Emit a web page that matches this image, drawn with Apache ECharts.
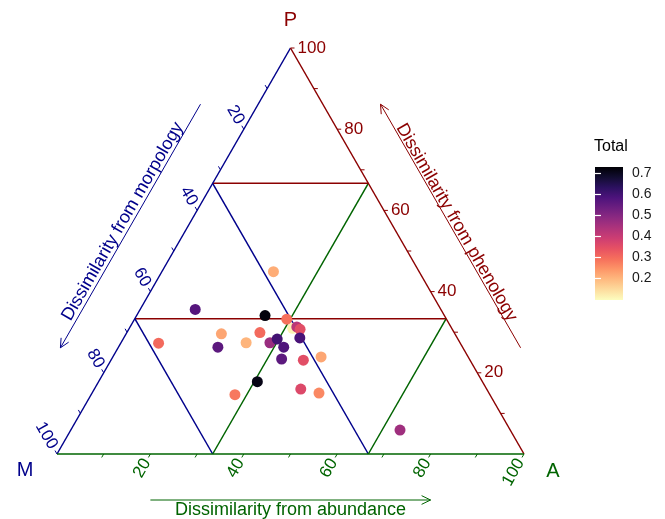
<!DOCTYPE html>
<html>
<head>
<meta charset="utf-8">
<title>Ternary - dissimilarity</title>
<script src="https://cdn.jsdelivr.net/npm/echarts@6/dist/echarts.min.js"></script>
<style>
html,body{margin:0;padding:0;background:#fff;}
#chart{width:665px;height:519px;}
</style>
</head>
<body>
<div id="chart"></div>
<script>
// points: M (morphology), A (abundance), P (phenology) in %, plus Total
var ptM = [34.1, 31.2, 52.6, 38.4, 34.2, 33.0, 32.6, 64.6, 50.0, 41.6, 52.4, 45.8, 40.7, 38.7, 38.3, 33.7, 40.2, 35.7, 31.5, 48.2, 54.6, 39.8, 36.4, 23.6];
var ptA = [35.0, 23.9, 11.8, 27.5, 32.6, 35.7, 36.7, 8.1, 20.4, 28.5, 21.3, 26.8, 31.9, 33.0, 35.4, 37.7, 36.4, 41.2, 44.6, 34.0, 30.8, 44.2, 48.6, 70.5];
var ptP = [31.0, 44.9, 35.6, 34.1, 33.2, 31.3, 30.7, 27.3, 29.6, 29.9, 26.3, 27.4, 27.4, 28.3, 26.3, 28.6, 23.4, 23.1, 23.9, 17.8, 14.6, 16.0, 15.0, 5.9];
var ptTotal = [0.11, 0.21, 0.57, 0.72, 0.29, 0.42, 0.35, 0.30, 0.22, 0.30, 0.56, 0.20, 0.47, 0.60, 0.58, 0.59, 0.56, 0.35, 0.22, 0.71, 0.28, 0.36, 0.26, 0.46];

// axes
var tickLabels = [20, 40, 60, 80, 100];
var minorTicks = [10, 20, 30, 40, 50, 60, 70, 80, 90, 100];
var gridLevels = [100 / 3, 200 / 3];
var arrowSpan = [20, 80];

// colour bar
var cbTicks = [0.2, 0.3, 0.4, 0.5, 0.6, 0.7];
var cbRange = [0.095, 0.73];
var magma = ['#FCFDBF', '#FDDC9E', '#FEBA80', '#FD9668', '#F6705C', '#E75263', '#CE3E72',
             '#AF347B', '#8E2A81', '#6D1F80', '#4D137C', '#2C1160', '#120D31', '#000004'];

var RED = '#8B0000', BLUE = '#00008B', GREEN = '#006400';
var FONT = '"Liberation Sans", Arial, sans-serif';
var S3 = Math.sqrt(3) / 2;

// ternary -> cartesian (triangle with base 1)
function tern(m, a, p) {
  var s = m + a + p;
  return [(a + p / 2) / s, (p / s) * S3];
}

var scatterData = ptM.map(function (m, i) {
  return tern(m, ptA[i], ptP[i]).concat(ptTotal[i]);
});

function renderFrame(params, api) {
  var ch = [];
  function pt(m, a, p) { return api.coord(tern(m, a, p)); }
  function seg(p1, p2, color, w) {
    return { type: 'line', shape: { x1: p1[0], y1: p1[1], x2: p2[0], y2: p2[1] },
      style: { stroke: color, lineWidth: w || 1.5 } };
  }
  function txt(x, y, s, color, size, rot, align) {
    return { type: 'text', x: x, y: y, rotation: rot || 0,
      style: { text: s, fill: color, font: size + 'px ' + FONT, align: align || 'center', verticalAlign: 'middle' } };
  }
  // grid lines
  gridLevels.forEach(function (g) {
    ch.push(seg(pt(100 - g, 0, g), pt(0, 100 - g, g), RED));
    ch.push(seg(pt(g, 0, 100 - g), pt(g, 100 - g, 0), BLUE));
    ch.push(seg(pt(100 - g, g, 0), pt(0, g, 100 - g), GREEN));
  });
  // edges
  var vM = pt(1, 0, 0), vA = pt(0, 1, 0), vP = pt(0, 0, 1);
  ch.push(seg(vM, vP, BLUE));
  ch.push(seg(vP, vA, RED));
  ch.push(seg(vM, vA, GREEN));

  // ticks + labels
  var axes = [
    { f: function (t) { return pt(t, 0, 100 - t); }, d: [-0.5, -S3], c: BLUE, rot: -Math.PI / 3, al: 'right' },
    { f: function (t) { return pt(100 - t, t, 0); }, d: [-0.5, S3], c: GREEN, rot: Math.PI / 3, al: 'right' },
    { f: function (t) { return pt(0, 100 - t, t); }, d: [1, 0], c: RED, rot: 0, al: 'left' }
  ];
  axes.forEach(function (ax) {
    minorTicks.forEach(function (t) {
      var p = ax.f(t);
      ch.push(seg(p, [p[0] + ax.d[0] * 4, p[1] + ax.d[1] * 4], ax.c, 1));
    });
    tickLabels.forEach(function (t) {
      var p = ax.f(t);
      ch.push(txt(p[0] + ax.d[0] * 7, p[1] + ax.d[1] * 7, String(t), ax.c, 17, ax.rot, ax.al));
    });
  });

  // axis arrows + titles
  function arrow(p1, p2, n, off, color) {
    var a = [p1[0] + n[0] * off, p1[1] + n[1] * off];
    var b = [p2[0] + n[0] * off, p2[1] + n[1] * off];
    ch.push(seg(a, b, color, 1));
    var dx = b[0] - a[0], dy = b[1] - a[1], L = Math.sqrt(dx * dx + dy * dy);
    var ux = dx / L, uy = dy / L, h = 10, k = 0.45;
    ch.push(seg(b, [b[0] - h * (ux * Math.cos(k) - uy * Math.sin(k)), b[1] - h * (uy * Math.cos(k) + ux * Math.sin(k))], color, 1));
    ch.push(seg(b, [b[0] - h * (ux * Math.cos(-k) - uy * Math.sin(-k)), b[1] - h * (uy * Math.cos(-k) + ux * Math.sin(-k))], color, 1));
  }
  var nL = [-S3, -0.5], nR = [S3, -0.5], nB = [0, 1];
  arrow(pt(arrowSpan[0], 0, 100 - arrowSpan[0]), pt(arrowSpan[1], 0, 100 - arrowSpan[1]), nL, 50, BLUE);
  arrow(pt(0, 100 - arrowSpan[0], arrowSpan[0]), pt(0, 100 - arrowSpan[1], arrowSpan[1]), nR, 50, RED);
  arrow(pt(100 - arrowSpan[0], arrowSpan[0], 0), pt(100 - arrowSpan[1], arrowSpan[1], 0), nB, 46, GREEN);

  var cL = pt(50, 0, 50), cR = pt(0, 50, 50), cB = pt(50, 50, 0);
  ch.push(txt(cL[0] + nL[0] * 59, cL[1] + nL[1] * 59, 'Dissimilarity from morpology', BLUE, 18, Math.PI / 3));
  ch.push(txt(cR[0] + nR[0] * 57, cR[1] + nR[1] * 57, 'Dissimilarity from phenology', RED, 18, -Math.PI / 3));
  ch.push(txt(cB[0], cB[1] + 56, 'Dissimilarity from abundance', GREEN, 18, 0));

  // vertex names
  ch.push(txt(vP[0], vP[1] - 28, 'P', RED, 20));
  ch.push(txt(vM[0] - 32, vM[1] + 16, 'M', BLUE, 20));
  ch.push(txt(vA[0] + 29, vA[1] + 17, 'A', GREEN, 20));

  return { type: 'group', children: ch };
}

function renderBar(params, api) {
  var p0 = api.coord([api.value(0), api.value(1)]);
  var p1 = api.coord([api.value(2), api.value(3)]);
  var stops = magma.map(function (c, i) { return { offset: i / (magma.length - 1), color: c }; });
  return {
    type: 'rect',
    shape: { x: p0[0], y: p1[1], width: p1[0] - p0[0], height: p0[1] - p1[1] },
    style: { fill: new echarts.graphic.LinearGradient(0, 1, 0, 0, stops) }
  };
}

var chart = echarts.init(document.getElementById('chart'));
chart.setOption({
  animation: false,
  title: {
    text: 'Total', left: 594, top: 139, padding: 0,
    textStyle: { fontSize: 16, fontWeight: 'normal', color: '#000', fontFamily: FONT }
  },
  grid: [
    { left: 57, top: 48, width: 467, height: 406 },
    { left: 595, top: 167, width: 28, height: 133 }
  ],
  xAxis: [
    { gridIndex: 0, type: 'value', min: 0, max: 1, show: false },
    { gridIndex: 1, type: 'value', min: 0, max: 1, show: false }
  ],
  yAxis: [
    { gridIndex: 0, type: 'value', min: 0, max: S3, show: false },
    {
      gridIndex: 1, type: 'value', position: 'right', min: cbRange[0], max: cbRange[1], z: 10,
      axisLine: { show: false }, splitLine: { show: false },
      axisTick: { inside: true, length: 6, customValues: cbTicks, lineStyle: { color: '#fff', width: 1.2 } },
      axisLabel: { customValues: cbTicks, margin: 9, fontSize: 14, color: '#1a1a1a', fontFamily: FONT,
        formatter: function (v) { return v.toFixed(1); } }
    },
    {
      gridIndex: 1, type: 'value', position: 'left', min: cbRange[0], max: cbRange[1], z: 10,
      axisLine: { show: false }, splitLine: { show: false }, axisLabel: { show: false },
      axisTick: { inside: true, length: 6, customValues: cbTicks, lineStyle: { color: '#fff', width: 1.2 } }
    }
  ],
  visualMap: {
    type: 'continuous', show: false, seriesIndex: 1, dimension: 2,
    min: cbRange[0], max: cbRange[1], inRange: { color: magma }
  },
  series: [
    {
      type: 'custom', xAxisIndex: 0, yAxisIndex: 0, silent: true, z: 1,
      data: [[0, 0]], renderItem: renderFrame
    },
    {
      type: 'scatter', xAxisIndex: 0, yAxisIndex: 0, z: 3,
      symbolSize: 11, data: scatterData, itemStyle: { opacity: 1 }
    },
    {
      type: 'custom', xAxisIndex: 1, yAxisIndex: 1, silent: true, z: 2,
      encode: { x: [0, 2], y: [1, 3] },
      data: [[0, cbRange[0], 1, cbRange[1]]], renderItem: renderBar
    }
  ]
});
</script>
</body>
</html>
